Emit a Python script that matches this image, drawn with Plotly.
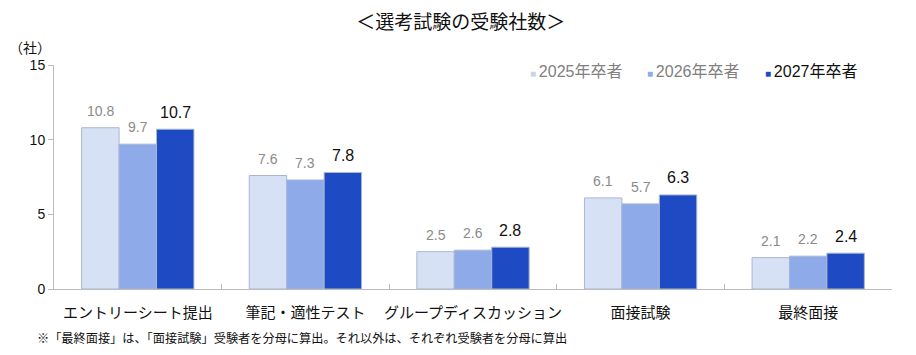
import plotly.graph_objects as go

categories = ["エントリーシート提出", "筆記・適性テスト", "グループディスカッション", "面接試験", "最終面接"]
series_names = ["2025年卒者", "2026年卒者", "2027年卒者"]
v2025 = [10.8, 7.6, 2.5, 6.1, 2.1]
v2026 = [9.7, 7.3, 2.6, 5.7, 2.2]
v2027 = [10.7, 7.8, 2.8, 6.3, 2.4]
y_ticks = [0, 5, 10, 15]

FONT = "Liberation Sans, Arial, Noto Sans CJK JP, sans-serif"
colors = ["#d7e1f6", "#8eaae8", "#1e4bc4"]
marker_colors = ["#c9d3ea", "#8eaae8", "#1e4bc4"]
label_colors = ["#8a8a8a", "#8a8a8a", "#111111"]
label_sizes = [14, 14, 16]
legend_colors = ["#808080", "#808080", "#111111"]

W, H = 916, 355
ML, MR, MT, MB = 54, 24, 65, 66
BARGAP = 0.33
plot_w = W - ML - MR
plot_h = H - MT - MB
bar_px = plot_w / len(categories) * (1 - BARGAP) / len(series_names)

fig = go.Figure()
all_vals = [v2025, v2026, v2027]
for name, vals, c in zip(series_names, all_vals, colors):
    fig.add_trace(go.Bar(
        x=categories, y=vals, name=name, showlegend=False,
        marker=dict(color=c, line=dict(color="#a9b6d3", width=1)),
    ))

# value labels
for i, (vals, lc, ls) in enumerate(zip(all_vals, label_colors, label_sizes)):
    for cat, v in zip(categories, vals):
        fig.add_annotation(x=cat, y=v, text=f"{v:.1f}", showarrow=False,
                           xshift=(i - 1) * bar_px, yshift=17, yanchor="middle", xanchor="center",
                           font=dict(color=lc, size=ls, family=FONT))

# legend drawn as text entries (small square marker + label)
legend_px = [528, 645, 763]
for name, mc, lg, px in zip(series_names, marker_colors, legend_colors, legend_px):
    fig.add_annotation(
        text=f"<span style='color:{mc};font-size:10px'>■ </span><span style='color:{lg}'>{name}</span>",
        xref="paper", yref="paper", x=(px - ML) / plot_w, y=(H - MB - 71) / plot_h,
        xanchor="left", yanchor="middle", showarrow=False,
        font=dict(size=16, family=FONT))

fig.update_layout(
    width=W, height=H,
    margin=dict(l=ML, r=MR, t=MT, b=MB),
    paper_bgcolor="white", plot_bgcolor="white",
    font=dict(family=FONT, color="#111111", size=14),
    barmode="group", bargap=BARGAP, bargroupgap=0,
    showlegend=False,
    title=dict(text="＜選考試験の受験社数＞", x=0.503, xanchor="center", y=0.937, yanchor="middle",
               font=dict(size=19, family=FONT, color="#111111")),
)
fig.update_yaxes(range=[0, 15], tickvals=y_ticks, ticks="outside", ticklen=5, tickcolor="#bbbbbb",
                 showline=True, linecolor="#bbbbbb", linewidth=1, showgrid=False, zeroline=False,
                 automargin=False, tickfont=dict(size=14, color="#111111"))
fig.update_xaxes(ticks="inside", tickson="boundaries", ticklen=5, tickcolor="#bbbbbb",
                 showline=True, linecolor="#bbbbbb", linewidth=1, showgrid=False,
                 tickangle=0, automargin=False, ticklabelstandoff=10,
                 tickfont=dict(size=15, color="#111111"))

fig.add_annotation(text="（社）", xref="paper", yref="paper", x=-0.029, y=1.076, xanchor="center", yanchor="middle",
                   showarrow=False, font=dict(size=14, family=FONT, color="#111111"))
fig.add_annotation(text="※「最終面接」は、「面接試験」受験者を分母に算出。それ以外は、それぞれ受験者を分母に算出",
                   xref="paper", yref="paper", x=-0.023, y=-0.22, xanchor="left", yanchor="middle",
                   showarrow=False, font=dict(size=12.2, family=FONT, color="#111111"))

fig.write_html("out.html", config={"displayModeBar": False},
               post_script="document.body.style.margin='0';")
